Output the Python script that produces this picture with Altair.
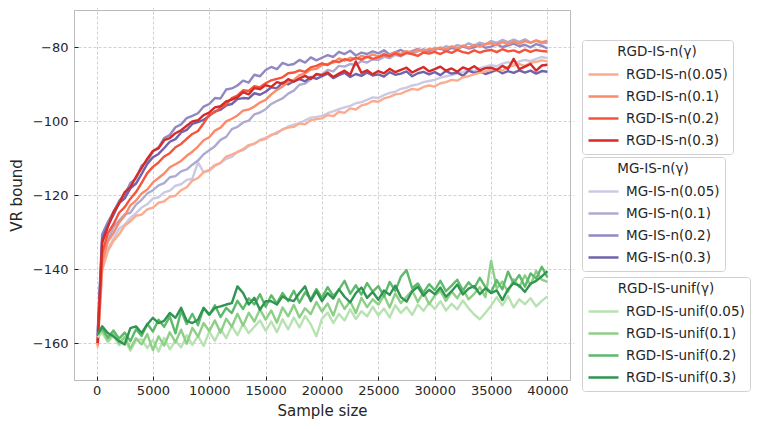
import altair as alt
import pandas as pd

X = [100, 500, 1000, 1500, 2000, 2500, 3000, 3500, 4000, 4500,
     5000, 5500, 6000, 6500, 7000, 7500, 8000, 8500, 9000, 9500,
     10000, 10500, 11000, 11500, 12000, 12500, 13000, 13500, 14000, 14500,
     15000, 15500, 16000, 16500, 17000, 17500, 18000, 18500, 19000, 19500,
     20000, 20500, 21000, 21500, 22000, 22500, 23000, 23500, 24000, 24500,
     25000, 25500, 26000, 26500, 27000, 27500, 28000, 28500, 29000, 29500,
     30000, 30500, 31000, 31500, 32000, 32500, 33000, 33500, 34000, 34500,
     35000, 35500, 36000, 36500, 37000, 37500, 38000, 38500, 39000, 39500,
     40000]

RGD_N_005 = [-161.2, -140.3, -135.2, -132.4, -130.6, -128.3, -127.1, -125.6, -125.3, -123.9,
             -123.4, -122.1, -121.7, -120.5, -120.2, -118.7, -117.9, -116.1, -115.4, -113.8,
             -113.2, -111.9, -111.3, -109.6, -109.1, -108.4, -107.6, -106.5, -106.1, -105.2,
             -104.9, -103.7, -103.4, -102.2, -101.8, -101.6, -100.7, -100.9, -99.8, -99.5,
             -99.3, -98.4, -98.7, -97.5, -97.8, -96.6, -96.9, -95.8, -95.4, -94.6,
             -94.8, -93.9, -93.5, -92.8, -92.6, -91.9, -91.3, -91.6, -90.8, -90.4,
             -90.7, -89.8, -89.5, -88.9, -89.1, -88.2, -87.9, -87.4, -87.0, -86.6,
             -86.2, -85.9, -86.4, -85.3, -85.0, -84.6, -85.1, -84.3, -84.0, -83.6,
             -83.9]
RGD_N_01 = [-160.6, -138.2, -132.6, -130.3, -127.4, -125.6, -122.8, -121.5, -119.6, -118.5,
            -116.6, -115.4, -114.2, -112.5, -111.7, -110.8, -109.4, -108.3, -106.9, -105.2,
            -104.4, -102.6, -101.8, -100.1, -99.4, -98.5, -97.2, -96.9, -96.1, -95.0,
            -94.3, -92.8, -91.6, -90.7, -89.4, -88.9, -87.6, -87.2, -86.1, -85.9,
            -84.9, -84.6, -84.2, -83.1, -83.7, -82.9, -83.3, -82.4, -82.8, -82.0,
            -82.6, -81.8, -82.2, -81.4, -81.9, -81.1, -81.5, -80.6, -81.3, -80.5,
            -80.8, -80.1, -80.7, -79.8, -80.4, -79.6, -80.2, -79.4, -79.9, -79.2,
            -79.0, -79.5, -78.7, -79.3, -78.5, -79.1, -78.4, -78.9, -78.2, -78.7,
            -78.3]
RGD_N_02 = [-160.0, -135.7, -130.4, -127.9, -124.8, -123.3, -121.0, -119.2, -116.7, -114.1,
            -112.4, -111.2, -109.6, -108.7, -107.1, -106.2, -104.8, -103.5, -102.7, -100.6,
            -98.3, -97.6, -96.4, -95.5, -93.8, -93.1, -91.7, -91.9, -90.6, -90.9,
            -89.8, -89.0, -88.6, -88.2, -87.1, -86.9, -86.3, -86.7, -85.5, -85.1,
            -84.4, -84.9, -83.8, -84.1, -83.3, -83.7, -82.9, -83.4, -82.6, -83.2,
            -82.8, -82.1, -82.5, -81.7, -82.3, -81.6, -81.9, -82.4, -81.5, -81.8,
            -81.3, -81.9, -81.1, -81.6, -80.8, -81.4, -81.7, -80.9, -81.5, -81.0,
            -80.8, -81.4, -80.6, -81.2, -80.9, -81.5, -80.7, -81.3, -80.8, -81.1,
            -81.2]
RGD_N_03 = [-160.0, -132.9, -128.7, -124.6, -122.3, -119.2, -117.9, -115.1, -112.7, -110.2,
            -108.1, -107.4, -105.2, -104.6, -103.3, -102.5, -101.3, -100.1, -99.8, -98.4,
            -97.7, -96.3, -96.0, -94.7, -94.2, -93.6, -92.2, -92.8, -91.1, -91.4,
            -90.3, -90.8, -89.5, -89.9, -88.7, -89.4, -88.5, -87.8, -88.6, -87.3,
            -87.6, -86.9, -88.1, -87.2, -86.4, -87.5, -83.9, -87.0, -86.3, -87.4,
            -86.5, -87.1, -85.9, -86.8, -86.2, -85.6, -86.9, -86.1, -85.4, -86.6,
            -86.0, -85.3, -86.4, -85.8, -86.7, -85.5, -86.1, -85.2, -86.3, -85.7,
            -85.6, -86.2, -85.1, -85.9, -83.2, -86.0, -85.3, -84.6, -86.4, -85.0,
            -84.8]

MG_N_005 = [-160.3, -139.4, -134.6, -131.8, -129.1, -128.0, -126.2, -124.9, -123.4, -122.5,
            -121.0, -120.6, -119.3, -118.8, -117.5, -117.1, -115.9, -115.6, -111.2, -113.9,
            -113.5, -112.1, -111.4, -110.2, -109.7, -108.3, -107.9, -106.8, -106.2, -105.1,
            -104.5, -103.9, -103.0, -102.4, -101.5, -101.0, -100.6, -99.8, -99.1, -98.9,
            -98.6, -97.9, -97.4, -96.8, -96.3, -95.9, -95.2, -94.9, -94.3, -93.6,
            -93.8, -93.0, -92.4, -92.1, -91.3, -91.0, -90.4, -90.1, -89.5, -89.2,
            -88.9, -88.3, -87.9, -87.6, -87.1, -86.8, -86.2, -86.5, -85.7, -85.3,
            -84.9, -85.2, -84.5, -84.1, -84.6, -83.9, -83.5, -83.8, -83.2, -82.7,
            -83.0]
MG_N_01 = [-159.2, -137.1, -132.3, -128.7, -126.9, -125.2, -124.8, -122.6, -121.3, -119.6,
           -118.7, -117.4, -116.8, -115.2, -114.9, -113.6, -113.1, -111.8, -110.7, -109.0,
           -107.9, -106.8, -105.1, -104.3, -102.2, -101.6, -100.4, -99.9, -98.2, -97.7,
           -96.8, -95.4, -94.6, -93.9, -92.6, -91.8, -90.2, -89.9, -88.7, -87.6,
           -87.4, -86.2, -86.6, -85.1, -85.3, -84.6, -84.9, -83.8, -84.2, -83.3,
           -83.5, -82.6, -83.0, -82.1, -82.5, -81.6, -81.9, -81.2, -80.6, -81.1,
           -80.2, -80.6, -79.8, -80.3, -79.5, -79.9, -79.0, -79.6, -78.8, -79.3,
           -78.4, -78.9, -78.1, -78.7, -78.0, -78.6, -77.9, -78.8, -78.3, -79.0,
           -78.8]
MG_N_02 = [-157.0, -130.6, -127.3, -124.6, -121.6, -119.9, -116.8, -115.5, -112.1, -110.9,
           -108.2, -107.1, -104.6, -103.8, -101.7, -100.9, -99.2, -98.6, -97.9, -96.1,
           -95.4, -93.8, -93.9, -91.5, -91.2, -90.4, -89.1, -89.6, -87.5, -87.9,
           -86.2, -85.4, -86.0, -84.3, -84.9, -84.6, -83.5, -84.2, -82.8, -83.6,
           -82.9, -82.2, -82.7, -81.3, -81.9, -81.0, -82.3, -81.5, -81.9, -81.2,
           -81.7, -80.9, -82.0, -81.4, -80.8, -81.6, -81.1, -80.5, -81.3, -81.0,
           -80.7, -80.3, -81.1, -80.2, -80.6, -79.8, -80.4, -80.1, -79.5, -80.2,
           -79.9, -79.3, -80.0, -79.6, -79.1, -79.8, -79.4, -80.1, -79.2, -79.7,
           -80.4]
MG_N_03 = [-158.0, -131.8, -128.3, -125.4, -122.2, -120.9, -118.2, -116.9, -114.3, -111.6,
           -109.8, -108.9, -107.3, -105.6, -104.9, -103.1, -102.4, -100.8, -100.3, -99.7,
           -98.6, -97.4, -97.0, -95.8, -95.4, -94.1, -93.8, -93.9, -92.5, -92.9,
           -92.1, -90.9, -91.2, -89.6, -90.1, -89.2, -88.7, -89.3, -88.1, -88.6,
           -87.9, -87.2, -88.4, -87.6, -87.0, -88.1, -87.3, -87.8, -86.9, -87.7,
           -87.4, -88.0, -86.8, -87.5, -87.2, -86.6, -87.9, -87.1, -86.7, -87.4,
           -86.8, -87.6, -86.5, -87.2, -86.9, -87.8, -86.4, -87.0, -86.6, -87.3,
           -86.8, -86.2, -87.1, -86.5, -87.0, -86.3, -86.9, -86.4, -87.2, -86.5,
           -86.7]

UNIF_005 = [-158.5, -157.2, -159.8, -158.1, -160.6, -158.9, -162.1, -159.3, -159.0, -161.4,
            -159.2, -162.3, -158.6, -161.7, -159.4, -161.2, -157.9, -160.5, -158.1, -160.8,
            -156.9, -159.4, -156.2, -158.7, -155.4, -157.9, -154.8, -157.3, -155.6, -153.9,
            -156.7, -154.2, -157.1, -153.6, -156.3, -153.1, -155.8, -152.7, -154.9, -158.2,
            -153.4, -151.8, -154.6, -152.1, -153.9, -150.9, -153.5, -151.4, -152.8, -150.2,
            -152.6, -150.7, -153.1, -149.8, -151.9, -150.3, -152.4, -149.6, -151.3, -149.1,
            -150.8, -148.7, -151.2, -149.4, -150.9, -148.5, -150.6, -152.3, -153.6, -151.8,
            -149.9, -147.6, -149.8, -147.3, -150.4, -148.2, -149.5, -147.9, -150.1, -148.6,
            -147.4]
UNIF_01 = [-157.8, -156.5, -159.2, -157.4, -160.1, -158.3, -161.5, -158.7, -160.4, -157.6,
           -161.9, -158.2, -160.7, -157.1, -159.8, -156.4, -160.2, -155.9, -158.3, -154.6,
           -156.8, -153.9, -157.2, -153.4, -155.6, -152.1, -155.3, -151.8, -154.2, -150.9,
           -153.7, -151.2, -154.5, -150.4, -152.8, -149.7, -153.1, -150.6, -152.2, -148.9,
           -151.5, -149.3, -152.6, -148.1, -150.8, -148.7, -151.9, -147.8, -150.3, -148.2,
           -149.6, -147.1, -150.4, -146.6, -149.2, -147.5, -145.8, -148.9, -146.3, -149.5,
           -147.2, -145.9, -148.6, -146.1, -147.9, -145.4, -148.2, -146.7, -144.9, -147.6,
           -137.8, -145.3, -143.4, -146.2, -142.8, -144.9, -141.7, -144.3, -140.5, -142.9,
           -143.5]
UNIF_02 = [-157.5, -156.0, -158.5, -156.6, -158.8, -157.2, -159.5, -156.3, -158.1, -154.8,
           -156.9, -153.7, -155.6, -152.8, -157.4, -151.3, -154.9, -152.1, -155.2, -150.6,
           -152.4, -149.8, -153.0, -150.5, -151.9, -148.6, -150.8, -147.9, -149.6, -146.8,
           -150.2, -147.1, -149.3, -146.5, -148.7, -145.9, -149.1, -146.3, -148.2, -145.4,
           -147.8, -144.9, -147.3, -145.6, -143.2, -146.7, -144.4, -146.9, -143.8, -146.1,
           -144.6, -147.4, -143.5, -145.9, -142.1, -140.3, -145.2, -143.9, -146.4, -144.1,
           -145.7, -143.2, -146.0, -144.5, -142.9, -145.8, -143.6, -145.2, -142.4, -144.9,
           -146.3, -143.0, -145.5, -140.7, -143.9, -141.6, -144.8, -141.2, -142.6, -139.4,
           -142.3]
UNIF_03 = [-157.7, -155.5, -157.3, -158.2, -159.5, -160.4, -156.0, -155.5, -157.3, -155.0,
           -153.2, -154.6, -154.0, -151.9, -153.2, -150.5, -154.0, -154.6, -153.7, -150.5,
           -152.3, -150.5, -150.1, -149.6, -149.2, -144.7, -146.5, -149.6, -147.8, -151.0,
           -148.7, -148.7, -149.6, -147.4, -148.3, -148.7, -146.5, -144.7, -148.7, -146.0,
           -148.7, -146.5, -148.0, -145.5, -147.5, -149.0, -146.5, -145.0, -147.8, -146.2,
           -148.3, -145.8, -147.0, -144.5, -147.6, -148.8, -146.0, -144.8, -147.2, -145.6,
           -146.8, -145.0, -147.5, -146.0, -144.2, -146.9, -145.3, -144.6, -146.8, -145.2,
           -146.5, -145.8, -148.4, -145.5, -143.8, -144.5, -146.2, -144.0, -143.2, -142.0,
           -140.6]

NAMES_RGD = ["RGD-IS-n(0.05)", "RGD-IS-n(0.1)", "RGD-IS-n(0.2)", "RGD-IS-n(0.3)"]
NAMES_MG = ["MG-IS-n(0.05)", "MG-IS-n(0.1)", "MG-IS-n(0.2)", "MG-IS-n(0.3)"]
NAMES_UNIF = ["RGD-IS-unif(0.05)", "RGD-IS-unif(0.1)", "RGD-IS-unif(0.2)", "RGD-IS-unif(0.3)"]

COLORS_RGD = ["#fcab8f", "#fb8a6b", "#f4533c", "#d62a27"]
COLORS_MG = ["#cbcae4", "#aeabd2", "#9089c1", "#7262ac"]
COLORS_UNIF = ["#b7e2b1", "#8ecf87", "#5db96b", "#2f9550"]

XTICKS = [0, 5000, 10000, 15000, 20000, 25000, 30000, 35000, 40000]
YTICKS = [-160, -140, -120, -100, -80]

FONT = "DejaVu Sans"
TXT = "#262626"


def frame(names, series):
    rows = []
    for name, vals in zip(names, series):
        for x, v in zip(X, vals):
            rows.append({"x": x, "v": v, "s": name})
    return pd.DataFrame(rows)


def layer(df, names, colors, title, ly):
    return alt.Chart(df).mark_line(strokeWidth=2.4, strokeJoin="round").encode(
        x=alt.X("x:Q",
                scale=alt.Scale(domain=[-2000, 42000], nice=False, zero=False),
                axis=alt.Axis(title="Sample size", values=XTICKS, format="d")),
        y=alt.Y("v:Q",
                scale=alt.Scale(domain=[-170, -70], nice=False, zero=False),
                axis=alt.Axis(title="VR bound", values=YTICKS, format="d",
                              labelExpr="replace(datum.label, '-', '\u2212')")),
        color=alt.Color("s:N",
                        scale=alt.Scale(domain=names, range=colors),
                        legend=alt.Legend(
                            title=title, orient="none", legendX=508, legendY=ly,
                            symbolType="stroke", symbolSize=900, symbolStrokeWidth=2.6,
                            clipHeight=16, rowPadding=6, padding=5, titlePadding=8,
                            labelOffset=6, labelFontSize=13.5, titleFontSize=13.5,
                            labelFont=FONT, titleFont=FONT, labelColor=TXT, titleColor=TXT,
                            titleFontWeight="normal", titleAnchor="middle", titleAlign="center",
                            strokeColor="#d0d0d0", fillColor="white", cornerRadius=3,
                            labelLimit=300)),
    )


df_mg = frame(NAMES_MG, [MG_N_005, MG_N_01, MG_N_02, MG_N_03])
df_rgd = frame(NAMES_RGD, [RGD_N_005, RGD_N_01, RGD_N_02, RGD_N_03])
df_unif = frame(NAMES_UNIF, [UNIF_005, UNIF_01, UNIF_02, UNIF_03])

chart = alt.layer(
    layer(df_mg, NAMES_MG, COLORS_MG, "MG-IS-n(\u03b3)", 147),
    layer(df_rgd, NAMES_RGD, COLORS_RGD, "RGD-IS-n(\u03b3)", 30),
    layer(df_unif, NAMES_UNIF, COLORS_UNIF, "RGD-IS-unif(\u03b3)", 267),
).resolve_scale(color="independent").properties(
    width=496, height=370,
    autosize=alt.AutoSizeParams(type="none"),
    padding={"left": 66, "top": 2, "right": 183, "bottom": 40},
).configure_view(
    stroke="#bbbbbb", strokeWidth=1
).configure_axis(
    domain=False, offset=-4, tickSize=4, tickColor="#222222", tickWidth=1,
    labelFont=FONT, labelFontSize=13, labelColor=TXT, labelPadding=6,
    titleFont=FONT, titleFontSize=15, titleColor=TXT, titleFontWeight="normal",
    grid=True, gridColor="#c4c4c4", gridDash=[3, 2], gridWidth=0.8,
).configure_axisX(
    labelPadding=4, titlePadding=6
).configure_axisY(
    titlePadding=8
)

chart.save("out.html", embed_options={"renderer": "svg", "actions": False})
